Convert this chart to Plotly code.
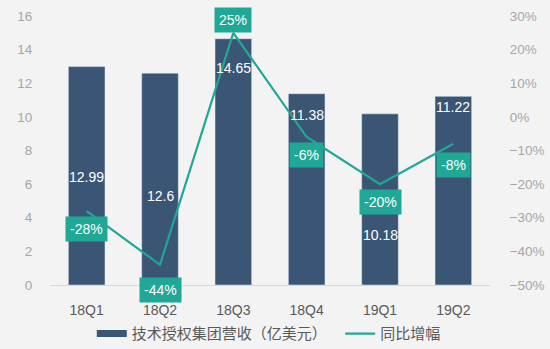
import plotly.graph_objects as go

categories = ["18Q1", "18Q2", "18Q3", "18Q4", "19Q1", "19Q2"]
revenue = [12.99, 12.6, 14.65, 11.38, 10.18, 11.22]
growth = [-0.28, -0.44, 0.25, -0.06, -0.20, -0.08]
growth_labels = ["-28%", "-44%", "25%", "-6%", "-20%", "-8%"]
series_names = ["技术授权集团营收（亿美元）", "同比增幅"]

# label placement (left-axis units for bar labels, pixel offsets for growth labels)
rev_label_y = [6.4, 5.3, 12.9, 10.1, 3.0, 10.6]
growth_label_dy = [18, 25, -13, 18, 18, 21]

BAR = "#3b5675"
TEAL = "#1fa896"
FONT = "Arial, Liberation Sans, Noto Sans CJK SC"

fig = go.Figure()
fig.add_trace(go.Bar(
    x=categories, y=revenue, name=series_names[0],
    marker=dict(color=BAR), yaxis="y", hoverinfo="skip", showlegend=False,
))
fig.add_trace(go.Scatter(
    x=categories, y=growth, name=series_names[1], mode="lines",
    line=dict(color=TEAL, width=2.2), yaxis="y2", hoverinfo="skip", showlegend=False,
))
# legend entries
fig.add_trace(go.Scatter(x=[None], y=[None], mode="lines", name=series_names[0] + "\u00a0\u00a0",
                         line=dict(color=BAR, width=7)))
fig.add_trace(go.Scatter(x=[None], y=[None], mode="lines", name=series_names[1],
                         line=dict(color=TEAL, width=2.2)))

ann = []
for c, v, ly in zip(categories, revenue, rev_label_y):
    ann.append(dict(x=c, y=ly, xref="x", yref="y", text=f"{v:g}", showarrow=False,
                    font=dict(color="white", size=14, family=FONT)))
for c, g, t, dy in zip(categories, growth, growth_labels, growth_label_dy):
    ann.append(dict(x=c, y=g, xref="x", yref="y2", text=t, showarrow=False,
                    yshift=-dy, bgcolor=TEAL, borderpad=4,
                    font=dict(color="white", size=14, family=FONT)))

fig.update_layout(
    width=550, height=349,
    margin=dict(l=50, r=60, t=16, b=64, autoexpand=False),
    paper_bgcolor="#f3f3f3", plot_bgcolor="#f3f3f3",
    bargap=0.5,
    font=dict(family=FONT, color="#595959"),
    xaxis=dict(showgrid=False, showline=True, linecolor="#d9d9d9", linewidth=1,
               ticks="outside", ticklen=12, tickcolor="rgba(0,0,0,0)",
               tickfont=dict(size=14, color="#595959")),
    yaxis=dict(range=[0, 16], dtick=2, showgrid=False, zeroline=False, showline=False,
               ticks="outside", ticklen=14, tickcolor="rgba(0,0,0,0)",
               tickfont=dict(size=13.5, color="#a6a6a6")),
    yaxis2=dict(range=[-0.5, 0.3], dtick=0.1, tickformat=".0%", overlaying="y", side="right",
                showgrid=False, zeroline=False, showline=False,
                ticks="outside", ticklen=16, tickcolor="rgba(0,0,0,0)",
                tickfont=dict(size=13.5, color="#a6a6a6")),
    legend=dict(orientation="h", x=0.095, xanchor="left", y=-0.12, yanchor="top",
                font=dict(size=15, color="#595959"), bgcolor="rgba(0,0,0,0)"),
    annotations=ann,
    showlegend=True,
)

fig.write_html("out.html")
